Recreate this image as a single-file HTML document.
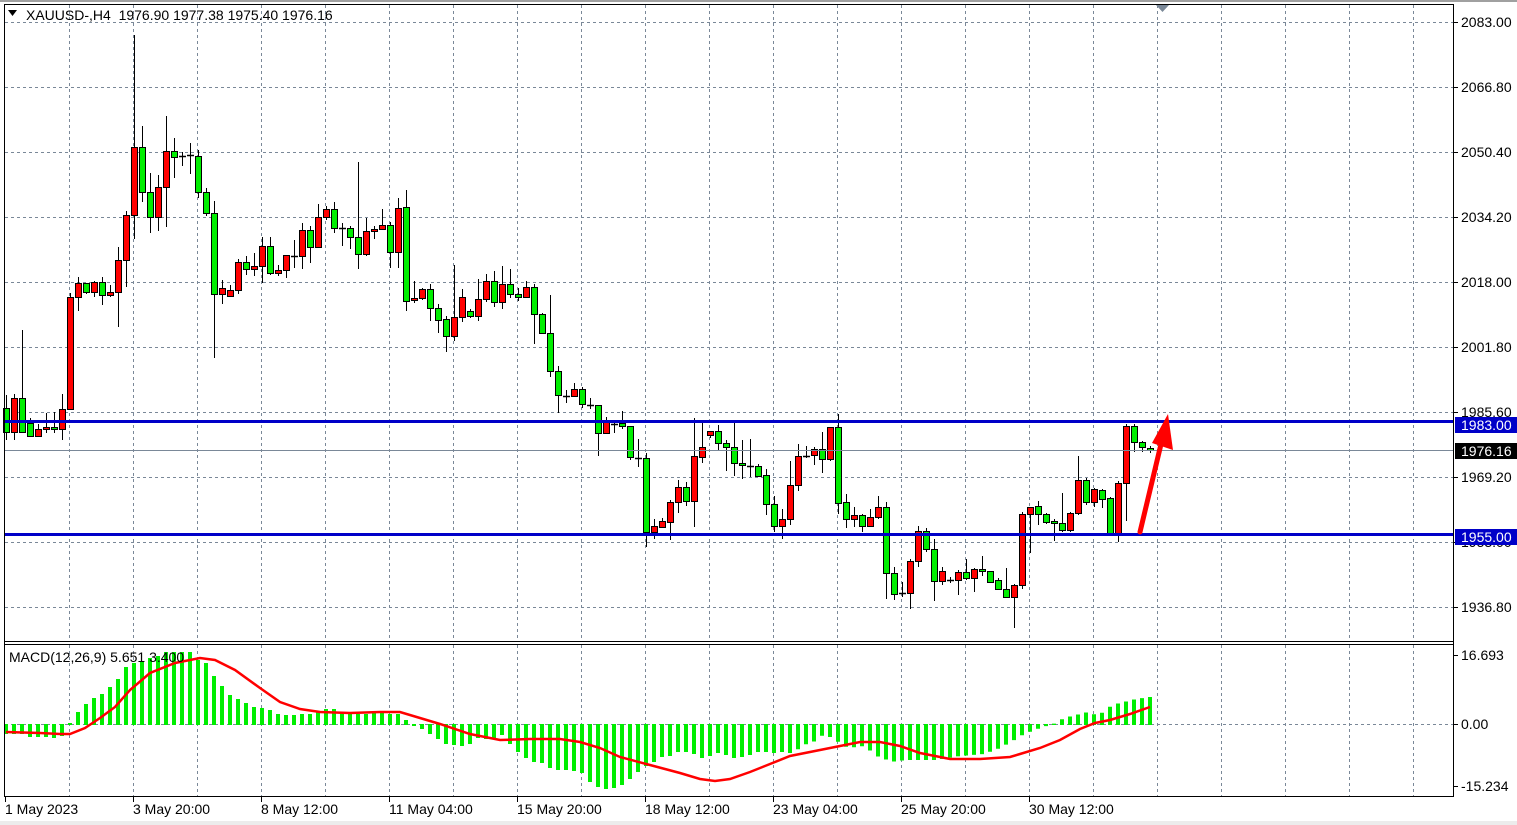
<!DOCTYPE html>
<html><head><meta charset="utf-8"><style>
html,body{margin:0;padding:0;background:#fff;width:1517px;height:825px;overflow:hidden}
svg{display:block;font-family:"Liberation Sans",sans-serif}
</style></head><body>
<svg id="s" width="1517" height="825" xmlns="http://www.w3.org/2000/svg"></svg>
<script>
let out=[];
function add(t){out.push(t);}
add('<rect x="0" y="0" width="1517" height="825" fill="#fff"/>');
add('<rect x="0" y="0" width="1517" height="2" fill="#a0a0a0"/>');
for(let x=69;x<1453;x+=64){add(`<line x1="${x+.5}" y1="5" x2="${x+.5}" y2="641" stroke="#7a8898" stroke-dasharray="3,3"/>`);add(`<line x1="${x+.5}" y1="645" x2="${x+.5}" y2="796" stroke="#7a8898" stroke-dasharray="3,3"/>`);}
const plab=["2083.00","2066.80","2050.40","2034.20","2018.00","2001.80","1985.60","1969.20","1953.00","1936.80"];
const pys=[22,87,152,217,282,347,412,477,542,607];
for(let i=0;i<pys.length;i++){let y=pys[i];add(`<line x1="5" y1="${y+.5}" x2="1453" y2="${y+.5}" stroke="#7a8898" stroke-dasharray="3,3"/>`);add(`<line x1="1453" y1="${y+.5}" x2="1458" y2="${y+.5}" stroke="#000"/>`);add(`<text x="1461" y="${y+5}" font-size="14" fill="#000">${plab[i]}</text>`);}
add(`<line x1="5" y1="724.5" x2="1453" y2="724.5" stroke="#7a8898" stroke-dasharray="3,3"/>`);
const C=`0G395,440,408,432;1R394,440,398,432;2G330,432,398,432;3G418,437,423,436;4R424,437,429,436;5R413,433,427,429;6G412,433,427,429;7R394,440,409,429;8R293,409,297,409;9R277,311,283,297;10G283,294,283,292;11R281,297,282,292;12G277,305,282,295;13R285,297,292,295;14R247,327,260,292;15R211,287,215,260;16R35,239,147,215;17G126,202,147,192;18G173,233,192,217;19R175,231,187,217;20R116,227,151,187;21G138,178,151,157;22D152,166,156,156;23D143,174,155,155;24G150,198,156,192;25G188,216,192,213;26G201,358,213,294;27R280,304,288,294;28R285,296,290,296;29R259,294,262,290;30G256,275,262,269;31R253,276,266,269;32R237,283,246,266;33G237,275,246,273;34R265,276,270,273;35R255,278,255,270;36D240,268,256,256;37R223,269,230,256;38G226,263,230,247;39R204,247,217,247;40R206,220,209,217;41G202,233,209,228;42D223,246,228,228;43G226,249,228,237;44G162,269,237,254;45R218,256,231,254;46R226,239,229,231;47R209,230,225,229;48G222,268,225,252;49R198,268,208,252;50G190,311,207,301;51R281,303,298,300;52R288,300,289,298;53G284,321,289,308;54G304,333,308,320;55G316,352,319,336;56R265,341,317,336;57R289,322,297,317;58G309,318,311,316;59R279,321,299,316;60R274,302,281,299;61G271,307,281,302;62R266,309,284,302;63G269,298,284,294;64G288,301,294,297;65R281,298,287,297;66G284,344,287,314;67G313,334,314,333;68G295,377,333,371;69G366,413,371,395;70D390,403,396,396;71R383,396,389,396;72G387,408,389,404;73D398,409,405,405;74G405,456,405,433;75R417,434,422,433;76D422,433,424,424;77G411,429,423,426;78G426,460,426,457;79D439,467,458,458;80G453,547,458,532;81R519,539,526,532;82R518,528,521,527;83R500,540,502,522;84R480,513,487,502;85G482,506,487,501;86R418,527,456,501;87R423,463,447,457;88R431,438,431,435;89G425,451,431,443;90G440,471,443,447;91G423,476,447,463;92G440,479,463,465;93D439,477,466,466;94G464,477,466,476;95G469,515,475,504;96G496,532,504,526;97R509,539,519,526;98R461,525,485,519;99R444,491,456,485;100D446,458,456,456;101R447,465,449,455;102G432,473,449,459;103R427,461,427,459;104G414,514,427,503;105G494,528,502,519;106R507,527,515,519;107G514,532,515,526;108R509,527,517,526;109R496,519,507,517;110G502,599,507,573;111G567,600,573,594;112D582,597,593,593;113R559,609,561,593;114R526,567,531,561;115G528,552,531,549;116G539,601,549,581;117R567,585,571,581;118D577,583,580,580;119R570,595,572,580;120G559,580,572,578;121R568,592,569,578;122G556,576,569,571;123G571,583,571,582;124G578,590,580,589;125G568,598,589,597;126R584,628,585,597;127R512,589,514,585;128R507,553,507,514;129G501,525,506,514;130G513,524,514,522;131G519,541,521,523;132G493,532,523,530;133R512,532,513,530;134R456,515,480,513;135G478,505,480,502;136R488,507,489,502;137G489,508,490,499;138G497,533,498,533;139R481,542,483,533;140R424,521,426,483;141G424,452,426,442;142G441,452,442,447;143G446,453,448,450`.split(';');
for(const s of C){const m=s.match(/^(\d+)([RGD])(.*)$/);const k=+m[1],c=m[2];const [h,l,t,b]=m[3].split(',').map(Number);const x=6+8*k;
add(`<line x1="${x+.5}" y1="${h}" x2="${x+.5}" y2="${l}" stroke="#000"/>`);
if(c=='D'||b-t<1){add(`<line x1="${x-3}" y1="${t+.5}" x2="${x+4}" y2="${t+.5}" stroke="#000" stroke-width="1.5"/>`);}
else add(`<rect x="${x-2.5}" y="${t+.5}" width="6" height="${b-t}" fill="${c=='R'?'#ff0000':'#00ee00'}" stroke="#000"/>`);}
add('<line x1="5" y1="450.5" x2="1453" y2="450.5" stroke="#7a8898"/>');
add('<rect x="5" y="420" width="1448" height="3" fill="#0000c8"/>');
add('<rect x="5" y="533" width="1448" height="3" fill="#0000c8"/>');
add('<line x1="1140" y1="532" x2="1162" y2="440" stroke="#f00" stroke-width="5" stroke-linecap="round"/>');
add('<polygon points="1168,414 1173,450 1152,443" fill="#f00"/>');
add('<polygon points="1156,5 1169,5 1162.5,12" fill="#7a8898"/>');
const H1=[734,734,734,737,737,737,738,736,723,712,704,698,694,687,679,667,663,661,658,656,652,652,652,652,660,663,676,686,695,699,703,707,708,710,714,715,715,714,714,712,709,709,712,714,714,714,712,713,714,714,720,726,729,734,739,744,745,746,744,738,739,738,735,744,752,758,762,763,768,770,770,771,773,782,787,789,788,785,779,772,766,762,757,756,752,752,754,758,756,753,755,758,757,755,752,752,753,752];
const HK=[[792,753],[808,743],[816,741],[824,734],[832,738],[848,748],[864,746],[872,752],[880,758],[896,762],[904,760],[936,760],[960,756],[984,754],[1000,748],[1016,739],[1024,734],[1040,728],[1056,723],[1064,718],[1080,714],[1088,712],[1096,715],[1104,712],[1112,705],[1128,701],[1136,699],[1150,697]];
function interp(K,x){if(x<=K[0][0])return K[0][1];for(let i=1;i<K.length;i++){if(x<=K[i][0]){const a=K[i-1],b=K[i];return a[1]+(b[1]-a[1])*(x-a[0])/(b[0]-a[0]);}}return K[K.length-1][1];}
for(let k=0;k<144;k++){const x=6+8*k;let y=k<H1.length?H1[k]:interp(HK,x);const t=Math.min(y,724),b=Math.max(y,725);add(`<rect x="${x-2}" y="${t}" width="4" height="${Math.max(1,b-t)}" fill="#00ee00"/>`);}
const SK=[[6,732],[40,733],[60,734],[70,734],[85,728],[100,718],[115,707],[130,690],[150,673],[175,663],[200,658],[215,660],[235,670],[260,688],[280,702],[300,709],[320,712],[350,713],[380,712],[400,712],[420,718],[440,724],[470,734],[500,740],[530,739],[560,739],[580,742],[600,748],[620,757],[650,765],[680,773],[700,779],[715,781],[730,779],[750,772],[770,764],[790,756],[830,748],[860,742],[880,742],[900,746],[920,753],[950,759],[980,759],[1010,757],[1020,754],[1040,748],[1060,740],[1080,729],[1095,723],[1110,720],[1130,714],[1150,707]];
add(`<polyline fill="none" stroke="#f00" stroke-width="2.5" points="${SK.map(p=>p.join(',')).join(' ')}"/>`);
add('<line x1="4.5" y1="4" x2="4.5" y2="797" stroke="#000"/>');
add('<line x1="4" y1="4.5" x2="1454" y2="4.5" stroke="#000"/>');
add('<line x1="1453.5" y1="4" x2="1453.5" y2="797" stroke="#000"/>');
add('<line x1="4" y1="641.5" x2="1454" y2="641.5" stroke="#000"/>');
add('<line x1="4" y1="644.5" x2="1454" y2="644.5" stroke="#000"/>');
add('<line x1="4" y1="796.5" x2="1454" y2="796.5" stroke="#000"/>');
add('<rect x="0" y="821" width="1517" height="4" fill="#ececec"/>');
[[655,"16.693"],[724,"0.00"],[786,"-15.234"]].forEach(([y,t])=>{add(`<line x1="1453" y1="${y+.5}" x2="1458" y2="${y+.5}" stroke="#000"/>`);add(`<text x="1461" y="${y+5}" font-size="14">${t}</text>`);});
add('<rect x="1455" y="417" width="62" height="16" fill="#0000c8"/><text x="1461" y="430" font-size="14" fill="#fff">1983.00</text>');
add('<rect x="1455" y="443" width="62" height="16" fill="#000"/><text x="1461" y="456" font-size="14" fill="#fff">1976.16</text>');
add('<rect x="1455" y="529" width="62" height="16" fill="#0000c8"/><text x="1461" y="542" font-size="14" fill="#fff">1955.00</text>');
const D=["1 May 2023","3 May 20:00","8 May 12:00","11 May 04:00","15 May 20:00","18 May 12:00","23 May 04:00","25 May 20:00","30 May 12:00"];
D.forEach((t,i)=>{const x=5+128*i;add(`<line x1="${x+.5}" y1="797" x2="${x+.5}" y2="802" stroke="#000"/>`);add(`<text x="${x}" y="814" font-size="14">${t}</text>`);});
add('<polygon points="8,10 17,10 12.5,16" fill="#000"/>');
add('<text x="26" y="20" font-size="14" xml:space="preserve">XAUUSD-,H4  1976.90 1977.38 1975.40 1976.16</text>');
add('<text x="9" y="662" font-size="14">MACD(12,26,9) 5.651 3.400</text>');
document.getElementById('s').innerHTML=out.join('');
</script>
</body></html>
